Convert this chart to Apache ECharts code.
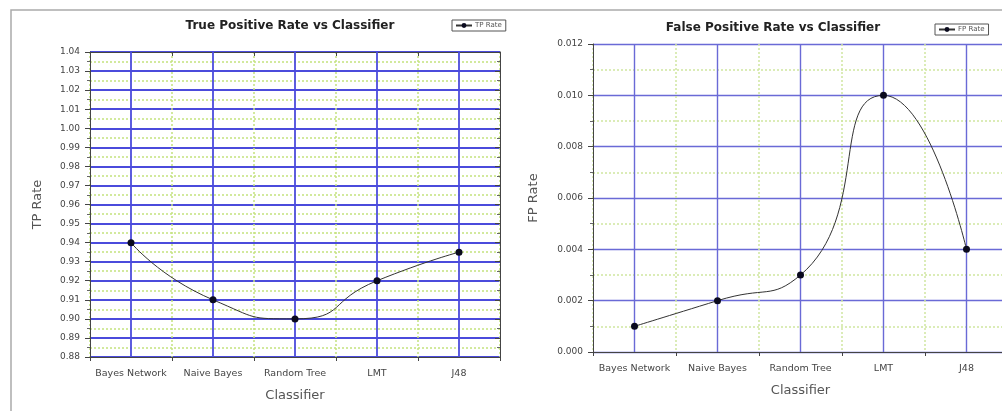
<!DOCTYPE html>
<html>
<head>
<meta charset="utf-8">
<script src="https://cdn.jsdelivr.net/npm/echarts@6/dist/echarts.min.js"></script>
<style>
html,body{margin:0;padding:0;background:#fff;}
#chart{width:1002px;height:411px;}
</style>
</head>
<body>
<div id="chart"></div>
<script>
const categories = ['Bayes Network', 'Naive Bayes', 'Random Tree', 'LMT', 'J48'];
const tpRate = [0.94, 0.91, 0.90, 0.92, 0.935];
const fpRate = [0.001, 0.002, 0.003, 0.010, 0.004];
const tpAxis = { min: 0.88, max: 1.04, interval: 0.01 };
const fpAxis = { min: 0, max: 0.012, interval: 0.002 };

const FONT = 'DejaVu Sans';
const BLUE = ['#4b4bdc', '#6a6ad6'];
const GREEN = ['#c4e27e', '#cfe6a0'];
const BW = [1.8, 1.4];

function catAxis(gridIndex, isTop) {
  return {
    type: 'category', gridIndex: gridIndex, data: categories,
    position: isTop ? 'top' : 'bottom', boundaryGap: true,
    name: isTop ? '' : 'Classifier', nameLocation: 'middle', nameGap: 32,
    nameTextStyle: { fontFamily: FONT, fontSize: 13, color: '#555' },
    axisLine: { show: true, lineStyle: { color: '#444', width: 1 } },
    axisTick: { show: true, inside: isTop, length: 4, interval: 0, lineStyle: { color: '#444' } },
    axisLabel: { show: !isTop, interval: 0, margin: 12, fontFamily: FONT, fontSize: 9.5, color: '#444' },
    splitLine: { show: !isTop, interval: 0, lineStyle: { color: GREEN[gridIndex], type: [2, 2], width: 1.5 } }
  };
}
function valAxis(gridIndex, cfg, isRight, name, gap, digits) {
  return {
    type: 'value', gridIndex: gridIndex, position: isRight ? 'right' : 'left',
    min: cfg.min, max: cfg.max, interval: cfg.interval,
    name: isRight ? '' : name, nameLocation: 'middle', nameGap: gap, nameRotate: 90,
    nameTextStyle: { fontFamily: FONT, fontSize: 13, color: '#555' },
    axisLine: { show: true, lineStyle: { color: '#444', width: 1 } },
    axisTick: { show: true, inside: isRight, length: 5, lineStyle: { color: '#444' } },
    minorTick: { show: true, splitNumber: 2, length: 3, lineStyle: { color: '#666' } },
    axisLabel: { show: !isRight, margin: 10, fontFamily: FONT, fontSize: 9, color: '#444',
      formatter: v => v.toFixed(digits) },
    splitLine: { show: !isRight, lineStyle: { color: BLUE[gridIndex], width: BW[gridIndex] } },
    minorSplitLine: { show: !isRight, lineStyle: { color: GREEN[gridIndex], type: [2, 2], width: 1.5 } }
  };
}
function centerLines(gridIndex) {
  return {
    silent: true, symbol: 'none', animation: false,
    label: { show: false },
    emphasis: { disabled: true },
    lineStyle: { color: BLUE[gridIndex], type: 'solid', width: BW[gridIndex] },
    data: categories.map(c => ({ xAxis: c }))
  };
}

const chart = echarts.init(document.getElementById('chart'), null, { renderer: 'canvas' });
chart.setOption({
  animation: false,
  backgroundColor: '#fff',
  graphic: [{
    type: 'rect', silent: true, z: -10,
    shape: { x: 11, y: 10, width: 1200, height: 600 },
    style: { fill: 'none', stroke: '#aaa', lineWidth: 1.5 }
  }],
  title: [
    { text: 'True Positive Rate vs Classifier', left: 290, top: 20, textAlign: 'center', padding: 0,
      textStyle: { fontFamily: FONT, fontSize: 12, fontWeight: 'bold', color: '#222' } },
    { text: 'False Positive Rate vs Classifier', left: 773, top: 22, textAlign: 'center', padding: 0,
      textStyle: { fontFamily: FONT, fontSize: 12, fontWeight: 'bold', color: '#222' } }
  ],
  legend: [
    { data: ['TP Rate'], left: 452, top: 20, orient: 'horizontal', padding: [2, 4, 2, 3],
      borderColor: '#555', borderWidth: 1, itemWidth: 16, itemHeight: 6, itemGap: 2,
      textStyle: { fontFamily: FONT, fontSize: 7, color: '#555', padding: [0, 0, 0, -2] } },
    { data: ['FP Rate'], left: 935, top: 24, orient: 'horizontal', padding: [2, 4, 2, 3],
      borderColor: '#555', borderWidth: 1, itemWidth: 16, itemHeight: 6, itemGap: 2,
      textStyle: { fontFamily: FONT, fontSize: 7, color: '#555', padding: [0, 0, 0, -2] } }
  ],
  grid: [
    { left: 90, top: 52, width: 410, height: 305, outerBoundsMode: 'none', containLabel: false },
    { left: 593, top: 44, width: 415, height: 308, outerBoundsMode: 'none', containLabel: false }
  ],
  xAxis: [catAxis(0, false), catAxis(0, true), catAxis(1, false), catAxis(1, true)],
  yAxis: [
    valAxis(0, tpAxis, false, 'TP Rate', 46, 2),
    valAxis(0, tpAxis, true, '', 0, 2),
    valAxis(1, fpAxis, false, 'FP Rate', 53, 3),
    valAxis(1, fpAxis, true, '', 0, 3)
  ],
  series: [
    { name: 'TP Rate', type: 'line', xAxisIndex: 0, yAxisIndex: 0, data: tpRate,
      smooth: 0.6, symbol: 'circle', symbolSize: 7,
      itemStyle: { color: '#0a0a1e' }, lineStyle: { color: '#333', width: 1 },
      markLine: centerLines(0), z: 5 },
    { name: 'FP Rate', type: 'line', xAxisIndex: 2, yAxisIndex: 2, data: fpRate,
      smooth: 0.6, symbol: 'circle', symbolSize: 7,
      itemStyle: { color: '#0a0a1e' }, lineStyle: { color: '#333', width: 1 },
      markLine: centerLines(1), z: 5 }
  ]
});
</script>
</body>
</html>
